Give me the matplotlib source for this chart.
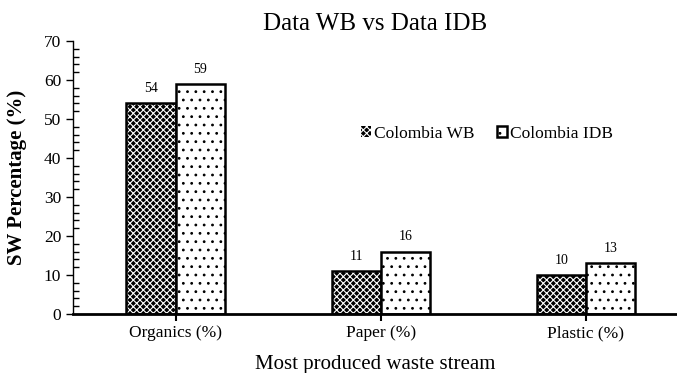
import numpy as np
import matplotlib.pyplot as plt
from matplotlib.ticker import MultipleLocator

plt.rcParams['font.family'] = ['Liberation Serif', 'DejaVu Serif']
plt.rcParams['hatch.linewidth'] = 0.8

# Dados
categorias = ['Organics (%)', 'Paper (%)', 'Plastic (%)']
colombia_wb = [54, 11, 10]
colombia_idb = [59, 16, 13]

fig = plt.figure(figsize=(6.77, 3.73), dpi=100)
ax = fig.add_axes([0.108, 0.158, 0.892, 0.732])

x = np.arange(len(categorias))
w = 0.24

ax.bar(x - w / 2, colombia_wb, w, color='black', edgecolor='white',
       hatch='xxxxx', linewidth=0, label='Colombia WB')
ax.bar(x - w / 2, colombia_wb, w, fill=False, edgecolor='black', linewidth=1.8)
ax.bar(x + w / 2, colombia_idb, w, color='white', edgecolor='black',
       hatch='..', linewidth=1.8, label='Colombia IDB')

# Rótulos de valor
for xi, v in zip(x - w / 2, colombia_wb):
    ax.annotate(str(v), (xi, v), xytext=(0, 6), textcoords='offset points',
                ha='center', va='bottom', fontsize=10)
for xi, v in zip(x + w / 2, colombia_idb):
    ax.annotate(str(v), (xi, v), xytext=(0, 6), textcoords='offset points',
                ha='center', va='bottom', fontsize=10)

ax.set_xlim(-0.5, 2.444)
ax.set_ylim(0, 70)
ax.set_xticks(x)
ax.set_xticklabels(categorias, fontsize=12.5)
ax.yaxis.set_major_locator(MultipleLocator(10))
ax.yaxis.set_minor_locator(MultipleLocator(2))
ax.tick_params(axis='y', which='major', direction='out', length=5, width=1, labelsize=12.5)
ax.tick_params(axis='y', which='minor', direction='in', length=4, width=1)
ax.tick_params(axis='x', which='major', direction='out', length=5, width=1.5, pad=3)

for s in ['top', 'right']:
    ax.spines[s].set_visible(False)
ax.spines['left'].set_linewidth(1)
ax.spines['bottom'].set_linewidth(2)

ax.set_title('Data WB vs Data IDB', fontsize=18, pad=8)
ax.set_ylabel('SW Percentage (%)', fontsize=15, fontweight='bold', labelpad=12)
ax.set_xlabel('Most produced waste stream', fontsize=15, labelpad=10)

ax.legend(loc='center left', bbox_to_anchor=(0.465, 0.66), ncol=2, frameon=False,
          fontsize=12.5, handlelength=0.6, handleheight=0.6, handletextpad=0.15,
          columnspacing=1.3, borderaxespad=0)

fig.savefig('out.png', dpi=100)
